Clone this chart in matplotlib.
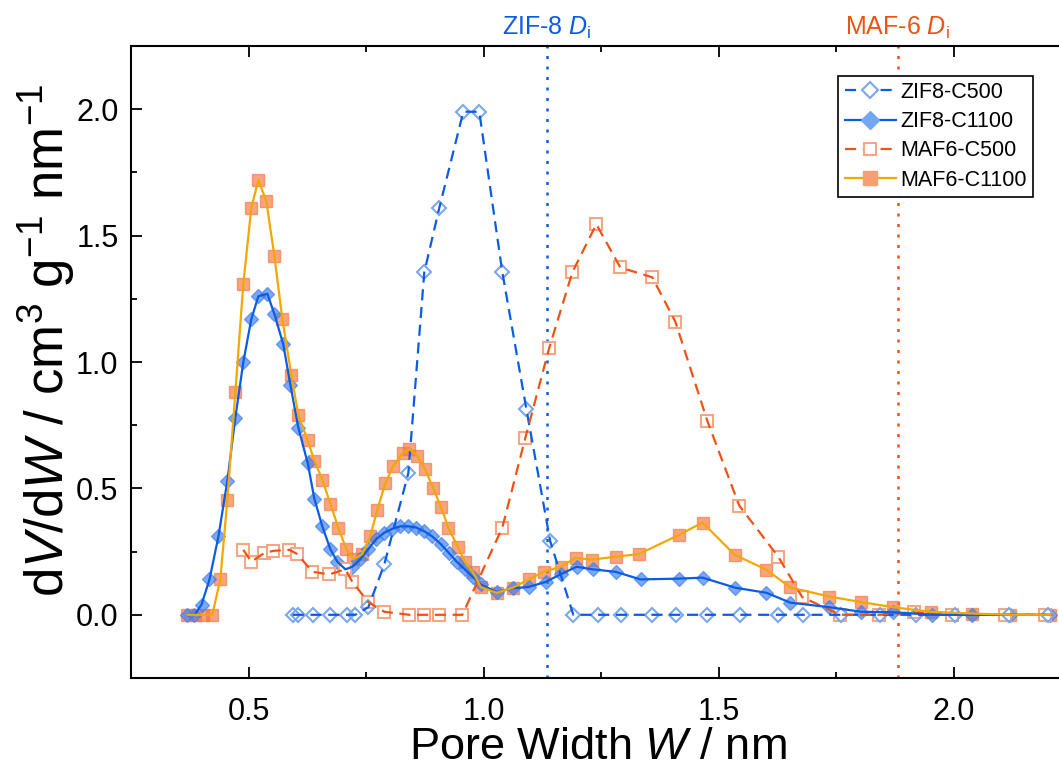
import matplotlib
matplotlib.use("Agg")
import matplotlib.pyplot as plt
from matplotlib.lines import Line2D
from matplotlib.ticker import MultipleLocator, FormatStrFormatter

plt.rcParams['font.family'] = ['Liberation Sans', 'DejaVu Sans']
plt.rcParams['mathtext.fontset'] = 'custom'
plt.rcParams['mathtext.rm'] = 'Liberation Sans'
plt.rcParams['mathtext.it'] = 'Liberation Sans:italic'
plt.rcParams['mathtext.bf'] = 'Liberation Sans:bold'

# ---------------- data ----------------
zif8_c500_x = [0.594, 0.606, 0.638, 0.674, 0.710, 0.727, 0.755, 0.789, 0.840, 0.874,
               0.906, 0.957, 0.991, 1.040, 1.091, 1.142, 1.191, 1.244, 1.293, 1.359,
               1.410, 1.476, 1.546, 1.627, 1.680, 1.761, 1.844, 1.921, 2.004, 2.117, 2.202]
zif8_c500_y = [0.0, 0.0, 0.0, 0.0, 0.0, 0.0, 0.03, 0.20, 0.56, 1.355,
               1.61, 1.99, 1.99, 1.355, 0.816, 0.29, 0.0, 0.0, 0.0, 0.0,
               0.0, 0.0, 0.0, 0.0, 0.0, 0.0, 0.0, 0.0, 0.0, 0.0, 0.0]

zif8_c1100_x = [0.370, 0.385, 0.400, 0.417, 0.436, 0.455, 0.472, 0.489, 0.506, 0.521,
                0.540, 0.555, 0.574, 0.589, 0.606, 0.626, 0.640, 0.657, 0.674, 0.689,
                0.706, 0.721, 0.738, 0.755, 0.772, 0.789, 0.806, 0.823, 0.840, 0.857,
                0.874, 0.891, 0.909, 0.926, 0.943, 0.960, 0.977, 0.994, 1.028, 1.062,
                1.096, 1.132, 1.164, 1.198, 1.232, 1.281, 1.334, 1.415, 1.466, 1.536,
                1.602, 1.653, 1.736, 1.804, 1.872, 1.955, 2.040, 2.121, 2.206]
zif8_c1100_y = [0.0, 0.0, 0.04, 0.14, 0.31, 0.53, 0.78, 1.00, 1.17, 1.26,
                1.27, 1.19, 1.07, 0.91, 0.74, 0.60, 0.46, 0.35, 0.26, 0.21,
                0.18, 0.19, 0.22, 0.26, 0.30, 0.325, 0.34, 0.35, 0.35, 0.345,
                0.33, 0.31, 0.28, 0.245, 0.21, 0.18, 0.15, 0.12, 0.09, 0.105,
                0.11, 0.13, 0.16, 0.19, 0.18, 0.17, 0.14, 0.143, 0.147, 0.107,
                0.087, 0.048, 0.03, 0.012, 0.01, 0.0, 0.0, 0.0, 0.0]

maf6_c500_x = [0.489, 0.506, 0.534, 0.553, 0.587, 0.604, 0.636, 0.672, 0.706, 0.721,
               0.755, 0.789, 0.842, 0.874, 0.906, 0.955, 1.040, 1.089, 1.140, 1.189,
               1.240, 1.291, 1.359, 1.408, 1.476, 1.544, 1.627, 1.678, 1.759, 1.842,
               1.915, 1.997, 2.110, 2.195]
maf6_c500_y = [0.257, 0.21, 0.245, 0.253, 0.257, 0.24, 0.17, 0.16, 0.18, 0.13,
               0.05, 0.012, 0.0, 0.0, 0.0, 0.0, 0.345, 0.70, 1.057, 1.355,
               1.545, 1.374, 1.335, 1.16, 0.768, 0.432, 0.23, 0.07, 0.0, 0.0,
               0.01, 0.0, 0.0, 0.0]

maf6_c1100_x = [0.370, 0.387, 0.404, 0.423, 0.440, 0.455, 0.472, 0.489, 0.506, 0.521,
                0.538, 0.555, 0.572, 0.591, 0.606, 0.626, 0.640, 0.657, 0.674, 0.691,
                0.708, 0.723, 0.742, 0.759, 0.774, 0.791, 0.808, 0.828, 0.842, 0.859,
                0.876, 0.893, 0.910, 0.925, 0.945, 0.960, 0.977, 0.994, 1.028, 1.062,
                1.096, 1.128, 1.164, 1.196, 1.230, 1.281, 1.330, 1.415, 1.466, 1.534,
                1.602, 1.653, 1.736, 1.804, 1.872, 1.951, 2.040, 2.121, 2.206]
maf6_c1100_y = [0.0, 0.0, 0.0, 0.0, 0.14, 0.455, 0.88, 1.31, 1.61, 1.72,
                1.635, 1.42, 1.17, 0.95, 0.79, 0.69, 0.61, 0.535, 0.44, 0.345,
                0.26, 0.22, 0.24, 0.31, 0.415, 0.52, 0.59, 0.64, 0.655, 0.63,
                0.575, 0.50, 0.425, 0.345, 0.27, 0.21, 0.17, 0.11, 0.087, 0.107,
                0.14, 0.17, 0.19, 0.225, 0.218, 0.23, 0.24, 0.315, 0.365, 0.238,
                0.178, 0.108, 0.072, 0.05, 0.03, 0.012, 0.005, 0.0, 0.0]

zif8_di = 1.134
maf6_di = 1.881

x_ticks = [0.5, 1.0, 1.5, 2.0]
y_ticks = [0.0, 0.5, 1.0, 1.5, 2.0]

# ---------------- style ----------------
BLUE = '#0a5ce6'
BLUE_MK = (0.25, 0.50, 0.93)
BLUE_OPEN = '#7aa7f0'
RED = '#ee5214'
GOLD = '#f2a800'
SAL = (0.96, 0.47, 0.27)
SAL_OPEN = '#f7a583'

fig = plt.figure(figsize=(10.59, 7.78), dpi=100)
W, H = 1059, 778
ax = fig.add_axes([131 / W, (H - 678) / H, (1064 - 131) / W, (678 - 46) / H])

dash = (0, (5, 3))

# markers first, then lines on top
ax.plot(maf6_c1100_x, maf6_c1100_y, ls='none', marker='s', ms=8.8,
        mfc=SAL, mec=SAL, alpha=0.68, zorder=2)
ax.plot(zif8_c1100_x, zif8_c1100_y, ls='none', marker='D', ms=7.2,
        mfc=BLUE_MK, mec=BLUE_MK, alpha=0.68, zorder=2)
ax.plot(maf6_c500_x, maf6_c500_y, ls='none', marker='s', ms=8.0,
        mfc='white', mec=SAL_OPEN, mew=1.5, zorder=2)
ax.plot(zif8_c500_x, zif8_c500_y, ls='none', marker='D', ms=7.3,
        mfc='none', mec=BLUE_OPEN, mew=1.5, zorder=2)

ax.plot(zif8_c500_x, zif8_c500_y, color=BLUE, lw=1.6, ls=dash, zorder=3)
ax.plot(maf6_c500_x, maf6_c500_y, color=RED, lw=1.6, ls=dash, zorder=3)
ax.plot(zif8_c1100_x, zif8_c1100_y, color=BLUE, lw=1.6, zorder=3)
ax.plot(maf6_c1100_x, maf6_c1100_y, color=GOLD, lw=1.6, zorder=3)

ax.axvline(zif8_di, color=BLUE, lw=1.8, ls=(0, (1.2, 3)), zorder=1)
ax.axvline(maf6_di, color=RED, lw=1.8, ls=(0, (1.2, 3)), zorder=1)

ax.text(zif8_di, 1.008, r'ZIF-8 $D_\mathrm{i}$', transform=ax.get_xaxis_transform(),
        ha='center', va='bottom', color=BLUE, fontsize=18)
ax.text(maf6_di, 1.008, r'MAF-6 $D_\mathrm{i}$', transform=ax.get_xaxis_transform(),
        ha='center', va='bottom', color=RED, fontsize=18)

ax.set_xlim(0.25, 2.235)
ax.set_ylim(-0.25, 2.25)
ax.set_xticks(x_ticks)
ax.set_yticks(y_ticks)
ax.xaxis.set_major_formatter(FormatStrFormatter('%.1f'))
ax.yaxis.set_major_formatter(FormatStrFormatter('%.1f'))
ax.xaxis.set_minor_locator(MultipleLocator(0.25))
ax.yaxis.set_minor_locator(MultipleLocator(0.25))
ax.tick_params(which='both', direction='in', top=True, right=False, width=1.3)
ax.tick_params(which='major', length=8, labelsize=22)
ax.tick_params(which='minor', length=4.5)
ax.tick_params(axis='x', which='major', pad=14)
ax.tick_params(axis='y', which='major', pad=9)
for s in ax.spines.values():
    s.set_linewidth(1.5)

ax.set_xlabel(r'Pore Width $W$ / nm', fontsize=32.5, labelpad=0)
ax.set_ylabel(r'd$V$/d$W$ / cm$^3$ g$^{-1}$ nm$^{-1}$', fontsize=38)
ax.yaxis.set_label_coords(-0.058, 0.535)

handles = [
    Line2D([], [], color=BLUE, lw=1.6, ls=dash, marker='D', ms=8.5,
           mfc='white', mec=BLUE_OPEN, mew=1.5),
    Line2D([], [], color=BLUE, lw=1.6, marker='D', ms=9,
           mfc=(0.45, 0.65, 0.96), mec=(0.45, 0.65, 0.96)),
    Line2D([], [], color=RED, lw=1.6, ls=dash, marker='s', ms=9,
           mfc='white', mec=SAL_OPEN, mew=1.5),
    Line2D([], [], color=GOLD, lw=1.6, marker='s', ms=10,
           mfc=(0.97, 0.62, 0.45), mec=(0.97, 0.62, 0.45)),
]
labels = ['ZIF8-C500', 'ZIF8-C1100', 'MAF6-C500', 'MAF6-C1100']
leg = ax.legend(handles, labels, loc='upper right', bbox_to_anchor=(1033 / W, (H - 76) / H),
                bbox_transform=fig.transFigure, fontsize=15.5, frameon=True, fancybox=False,
                edgecolor='black', framealpha=1, handlelength=2.4, handletextpad=0.2,
                labelspacing=0.38, borderpad=0.28, borderaxespad=0)
leg.get_frame().set_linewidth(1.2)

fig.savefig('out.png', dpi=100)
